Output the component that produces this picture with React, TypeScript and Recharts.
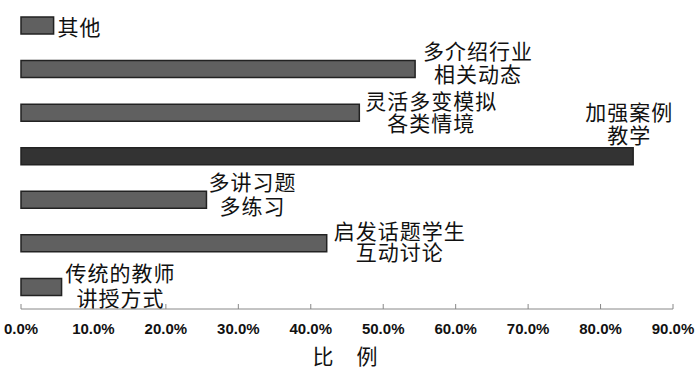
import React from 'react';
import { BarChart, Bar, XAxis, YAxis, Cell, LabelList } from 'recharts';

const categories = ['其他', '多介绍行业相关动态', '灵活多变模拟各类情境', '加强案例教学', '多讲习题多练习', '启发话题学生互动讨论', '传统的教师讲授方式'];
const values = [4.5, 54.4, 46.7, 84.5, 25.6, 42.2, 5.6];
const labelLines = [['其他'], ['多介绍行业', '相关动态'], ['灵活多变模拟', '各类情境'], ['加强案例', '教学'], ['多讲习题', '多练习'], ['启发话题学生', '互动讨论'], ['传统的教师', '讲授方式']];
const xTicks = [0, 10, 20, 30, 40, 50, 60, 70, 80, 90];
const axisTitleChars = ['比', '例'];

// label placement (style): dx from bar end to label center, dy of each line from bar center
const labelPlacement = [
  { dx: 26, dy: [0] },
  { dx: 63, dy: [-19, 4] },
  { dx: 72, dy: [-13, 9] },
  { dx: -4, dy: [-45, -22] },
  { dx: 46, dy: [-19, 5] },
  { dx: 73, dy: [-13, 8] },
  { dx: 59, dy: [-15, 10] },
];
const fills = ['#606060', '#606060', '#606060', '#333333', '#606060', '#606060', '#606060'];

const data = categories.map((c, i) => ({ name: c, value: values[i] }));

const CJK = '"Noto Sans CJK SC", sans-serif';

const renderLabel = (props: any) => {
  const { x, y, width, height, index } = props;
  const p = labelPlacement[index];
  const lines = labelLines[index];
  const cx = x + width + p.dx;
  const cy = y + height / 2;
  return (
    <text textAnchor="middle" dominantBaseline="central"
      fontFamily={CJK} fontSize={21} letterSpacing={1} fill="#111">
      {lines.map((t, k) => (
        <tspan key={k} x={cx} y={cy + p.dy[k]}>{t}</tspan>
      ))}
    </text>
  );
};

const XTick = (props: any) => {
  const { x, y, payload } = props;
  return (
    <g>
      <line x1={x} x2={x} y1={y} y2={y - 5} stroke="#888" strokeWidth={1} />
      <text x={x} y={y + 19} textAnchor="middle" dominantBaseline="central"
        fontFamily='"Liberation Sans", sans-serif' fontWeight="bold" fontSize={15} fill="#111">
        {`${Number(payload.value).toFixed(1)}%`}
      </text>
    </g>
  );
};

const YTick = (props: any) => {
  const { x, y, payload } = props;
  const top = y - (payload.offset || 0);
  return <line x1={x - 4} x2={x} y1={top} y2={top} stroke="#888" strokeWidth={1} />;
};

const AxisTitle = (props: any) => {
  const vb = props.viewBox || {};
  const cx = vb.x + vb.width / 2;
  const cy = vb.y + 46;
  return (
    <text dominantBaseline="central" textAnchor="middle" fontFamily={CJK} fontSize={21} fill="#111">
      <tspan x={cx - 24} y={cy}>{axisTitleChars[0]}</tspan>
      <tspan x={cx + 20} y={cy}>{axisTitleChars[1]}</tspan>
    </text>
  );
};

export default function App() {
  return (
    <div style={{ position: 'absolute', left: 0, top: 0, width: 700, height: 371, background: '#fff' }}>
      <BarChart width={700} height={371} data={data} layout="vertical"
        margin={{ top: 4, right: 27, bottom: 0, left: 21 }}>
        <XAxis type="number" dataKey="value" domain={[0, 90]} ticks={xTicks} interval={0}
          height={62} tickSize={0} tickMargin={0} tickLine={false} tick={<XTick />}
          axisLine={{ stroke: '#888', strokeWidth: 1 }}
          label={<AxisTitle />} />
        <YAxis type="category" dataKey="name" width={0} tickSize={0} tickMargin={0} tickLine={false}
          tick={<YTick />} interval={0} axisLine={{ stroke: '#888', strokeWidth: 1 }} />
        <Bar dataKey="value" barSize={17} isAnimationActive={false} stroke="#222" strokeWidth={1.5}>
          {data.map((d, i) => <Cell key={i} fill={fills[i]} />)}
          <LabelList dataKey="value" content={renderLabel} />
        </Bar>
      </BarChart>
    </div>
  );
}
